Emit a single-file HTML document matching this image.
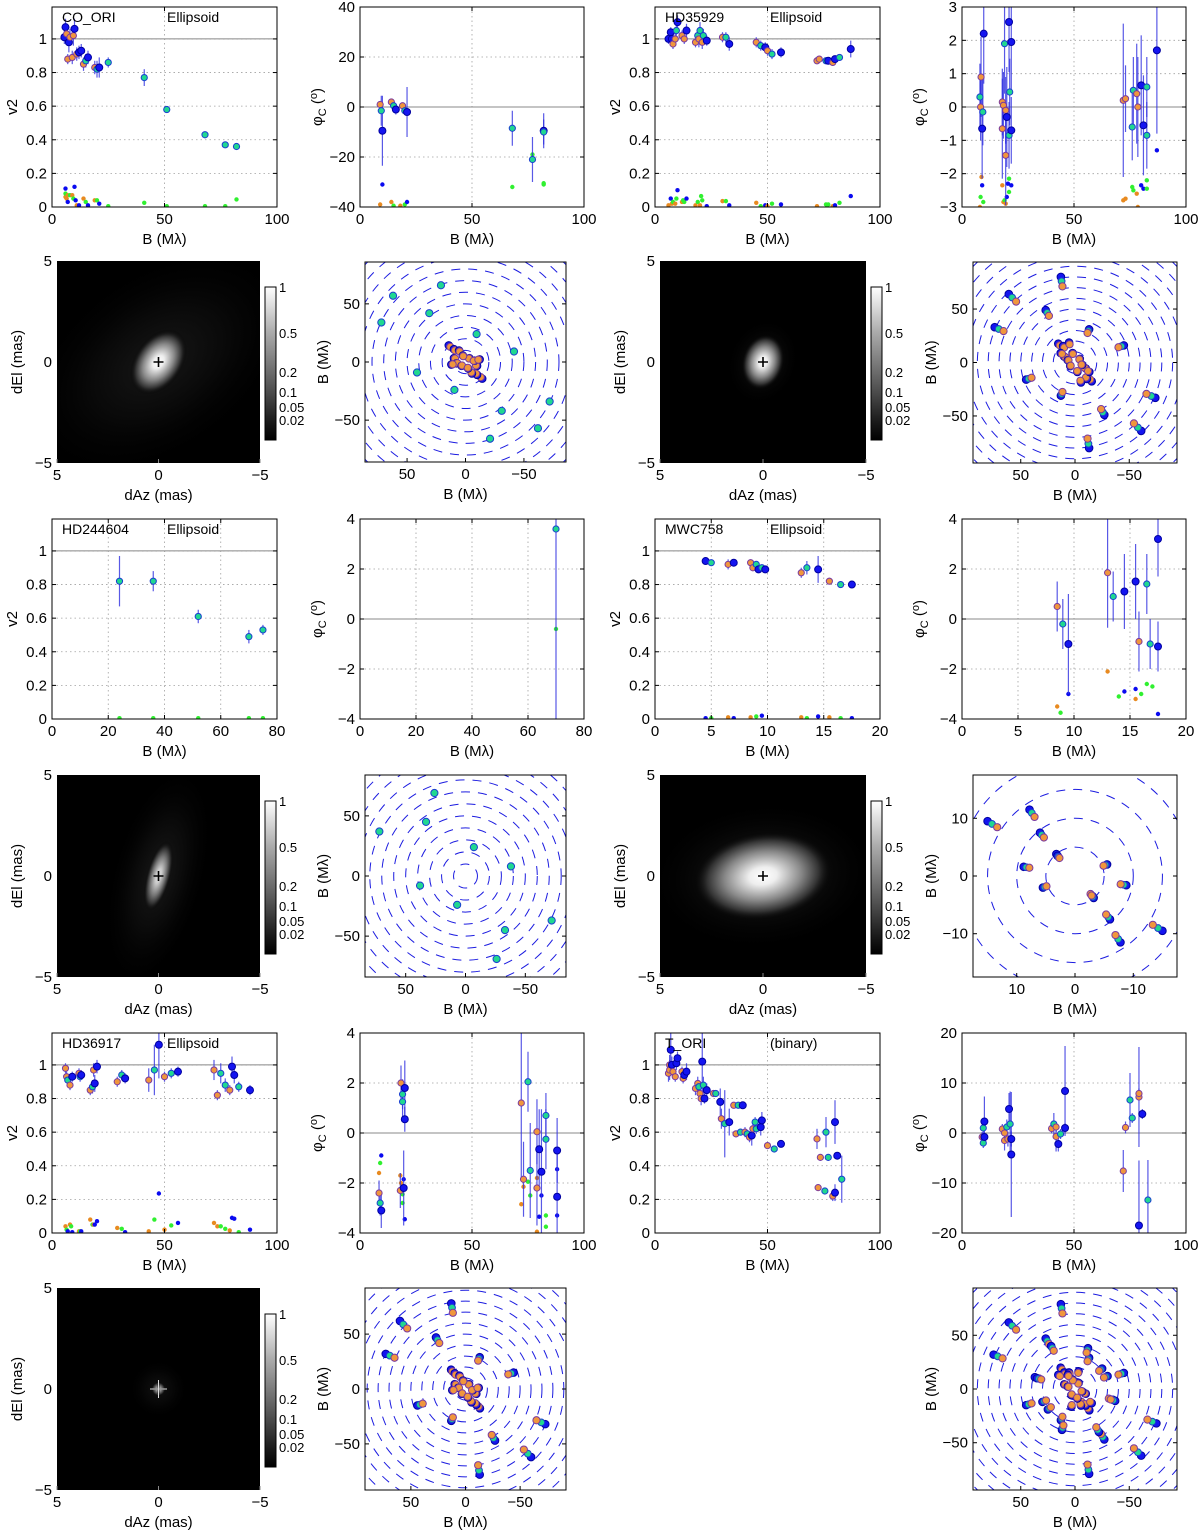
<!DOCTYPE html>
<html><head><meta charset="utf-8"><title>Interferometry fits</title>
<style>
html,body{margin:0;padding:0;background:#fff;}
svg{display:block;font-family:"Liberation Sans",sans-serif;}
</style></head>
<body>
<svg id="fig" width="1200" height="1535" viewBox="0 0 1200 1535" xmlns="http://www.w3.org/2000/svg">
<defs>
<linearGradient id="cbar" x1="0" y1="1" x2="0" y2="0">
<stop offset="0" stop-color="#000"/><stop offset="0.12" stop-color="#1a1a1a"/><stop offset="0.35" stop-color="#555"/><stop offset="0.7" stop-color="#aaa"/><stop offset="1" stop-color="#fff"/>
</linearGradient>
<radialGradient id="halo"><stop offset="0" stop-color="#2a2a2a"/><stop offset="0.5" stop-color="#101010"/><stop offset="1" stop-color="#000" stop-opacity="0"/></radialGradient>
<radialGradient id="core"><stop offset="0" stop-color="#fff"/><stop offset="0.2" stop-color="#eee"/><stop offset="0.55" stop-color="#888"/><stop offset="0.8" stop-color="#333"/><stop offset="1" stop-color="#000" stop-opacity="0"/></radialGradient>
</defs>
</svg>
<script>
// ---------- DATA ----------
// point: [x, y, err, series]  series: b=blue, g=green, o=orange
const coOriV2Pts=[[5.5,1.01,.04,'b'],[6,1.07,.05,'b'],[6.5,1.03,.04,'o'],[7,0.88,.03,'o'],[7.5,0.98,.06,'b'],[8,1.01,.05,'o'],[9,0.89,.04,'o'],[9.5,1.02,.06,'o'],[10,1.06,.06,'b'],[11,0.91,.04,'o'],[12,0.92,.04,'b'],[13,0.93,.04,'b'],[14,0.85,.04,'o'],[15,0.87,.04,'g'],[16,0.89,.04,'b'],[19,0.83,.04,'o'],[20,0.82,.05,'g'],[21,0.83,.06,'b'],[25,0.86,.03,'g'],[41,0.77,.05,'g'],[51,0.58,.02,'g'],[68,0.43,.02,'g'],[77,0.37,.01,'g'],[82,0.36,.02,'g']];
const coOriV2Low=[[6,0.11,'b'],[6,0.06,'o'],[6,0.08,'l'],[6.5,0.05,'o'],[7,0.07,'o'],[7,0.03,'b'],[8,0.07,'l'],[9,0.07,'o'],[9.5,0.05,'l'],[10,0.12,'b'],[10.5,0.04,'b'],[11,0.01,'o'],[12,0.01,'b'],[14,0.05,'o'],[15,0.03,'l'],[16,0.01,'b'],[19,0.04,'o'],[20,0.04,'l'],[21,0.02,'b'],[25,0.005,'l'],[41,0.025,'l'],[51,0.005,'l'],[68,0.005,'l'],[77,0.005,'l'],[82,0.045,'l']];
const coOriCpPts=[[9,1,1,'o'],[9.5,-1.5,6,'g'],[10,-9.5,14,'b'],[14,2,1,'o'],[15,0.5,1,'g'],[16,-1,2,'b'],[19,0.5,1,'o'],[20,-1.5,1,'g'],[21,-2,10,'b'],[68,-8.5,7,'g'],[77,-21,9,'g'],[82,-9.5,7,'b'],[82,-10,5,'g']];
const coOriCpLow=[[9,-39,'o'],[10,-31,'b'],[14,-38,'o'],[15,-39.5,'l'],[18,-39.5,'o'],[20,-39,'l'],[21,-38,'b'],[68,-32,'l'],[77,-19,'l'],[82,-31,'l'],[82,-30.5,'l']];
const hd35929V2Pts=[[6,1.0,.03,'b'],[7,1.04,.03,'b'],[7.5,1.0,.04,'b'],[8,0.97,.03,'o'],[9,1.0,.03,'o'],[9.5,1.05,.03,'g'],[10,1.1,.04,'b'],[12,1.02,.03,'o'],[13,1.0,.03,'o'],[14,1.05,.04,'b'],[18,0.98,.03,'o'],[19,1.02,.04,'g'],[19.5,1.0,.05,'o'],[20,1.05,.05,'g'],[21,0.98,.04,'o'],[21.5,1.02,.04,'g'],[23,0.99,.03,'b'],[30,1.01,.03,'o'],[31.5,1.01,.03,'g'],[33,0.97,.04,'b'],[45,0.98,.03,'o'],[47,0.96,.03,'g'],[49,0.95,.03,'b'],[50,0.93,.03,'o'],[52,0.91,.03,'g'],[56,0.92,.03,'b'],[72,0.87,.02,'o'],[73,0.88,.02,'o'],[76,0.87,.02,'g'],[77,0.87,.02,'b'],[79,0.86,.02,'o'],[80,0.88,.02,'b'],[82,0.89,.02,'g'],[87,0.94,.05,'b']];
const hd35929V2Low=[[6,0.01,'o'],[7,0.05,'b'],[7.5,0.02,'o'],[8,0.03,'l'],[9,0.02,'o'],[9.5,0.05,'l'],[10,0.1,'b'],[12,0.03,'o'],[12.5,0.04,'l'],[13,0.03,'l'],[14,0.05,'b'],[18,0.01,'o'],[19,0.03,'l'],[20,0.01,'o'],[20.5,0.065,'l'],[21,0.04,'l'],[23,0.005,'b'],[30,0.035,'o'],[31.5,0.035,'l'],[33,0.01,'b'],[45,0.025,'o'],[47,0.005,'l'],[49,0.01,'b'],[50,0.005,'o'],[52,0.02,'l'],[56,0.015,'b'],[72,0.005,'o'],[76,0.015,'l'],[77,0.015,'l'],[79,0.005,'o'],[80,0.01,'b'],[82,0.025,'l'],[87,0.065,'b']];
const hd35929CpPts=[[8,0.3,1,'g'],[8.3,0,1,'o'],[8.5,0.9,1.2,'o'],[9,-0.65,1.5,'b'],[9.3,-0.15,1,'g'],[9.7,2.2,1.5,'b'],[18,0.15,1,'o'],[18,-0.65,1.5,'o'],[18.5,0.05,1,'o'],[19,1.9,1.5,'g'],[19.5,-1.45,1.5,'o'],[19.5,-0.1,1,'o'],[20,-0.3,1.5,'b'],[21,2.55,1.5,'b'],[21,-0.85,1,'g'],[21.3,0.45,1,'g'],[22,1.95,1.5,'b'],[22,-0.7,1,'b'],[72,0.2,2.3,'o'],[73,0.25,1,'o'],[76,-0.6,1,'g'],[76.5,0.5,1,'g'],[78,0.4,1.5,'o'],[78.5,0,1.5,'o'],[80,0.65,1.5,'b'],[81,-0.55,1.5,'b'],[82.5,0.6,0.9,'g'],[82.5,-0.85,1,'g'],[87,1.7,2.5,'b']];
const hd35929CpLow=[[8,-3,'o'],[8.3,-2.7,'l'],[8.7,-2.1,'o'],[9,-2.35,'b'],[9.5,-2.85,'l'],[18,-2.35,'o'],[18.5,-2.85,'o'],[19,-2.8,'l'],[19.5,-2.9,'o'],[20,-2.7,'b'],[20.5,-2.3,'b'],[21,-2.15,'l'],[21,-2.55,'l'],[22,-2.35,'b'],[72,-2.8,'o'],[73,-2.75,'o'],[76,-2.4,'l'],[76.5,-2.5,'l'],[78,-2.6,'o'],[78.5,-3,'o'],[80,-2.35,'b'],[81,-2.45,'b'],[82.5,-2.2,'l'],[82.5,-2.45,'l'],[87,-1.3,'b']];
const hd244604V2Pts=[[24,0.82,.15,'g'],[36,0.82,.06,'g'],[52,0.61,.04,'g'],[70,0.49,.04,'g'],[75,0.53,.03,'g']];
const hd244604V2Low=[[24,0.005,'l'],[36,0.005,'l'],[52,0.005,'l'],[70,0.005,'l'],[75,0.005,'l']];
const hd244604CpPts=[[70,3.6,8,'g']];
const hd244604CpLow=[[70,-0.4,'l']];
const mwc758V2Pts=[[4.5,0.94,.02,'b'],[5,0.93,.02,'g'],[6.5,0.92,.03,'o'],[7,0.93,.02,'b'],[8.5,0.93,.02,'o'],[8.7,0.90,.02,'o'],[9,0.92,.02,'g'],[9.2,0.89,.02,'b'],[9.5,0.90,.02,'g'],[9.8,0.89,.02,'b'],[13,0.87,.03,'o'],[13.5,0.90,.04,'g'],[14.5,0.89,.08,'b'],[15.5,0.82,.02,'o'],[16.5,0.80,.02,'g'],[17.5,0.80,.02,'b']];
const mwc758V2Low=[[4.5,0.005,'b'],[5,0.005,'l'],[6.5,0.01,'o'],[7,0.005,'b'],[8.5,0.01,'o'],[9,0.015,'l'],[9.5,0.02,'b'],[13,0.01,'o'],[13.5,0.005,'l'],[14.5,0.015,'b'],[15.5,0.01,'o'],[16.5,0.005,'l'],[17.5,0.005,'b']];
const mwc758CpPts=[[8.5,0.5,1,'o'],[9,-0.2,1,'g'],[9.5,-1.0,2,'b'],[13,1.85,2.2,'o'],[13.5,0.9,1,'g'],[14.5,1.1,1.5,'b'],[15.5,1.5,1.5,'b'],[15.8,-0.9,1.2,'o'],[16.5,1.4,1.2,'g'],[16.8,-1.0,1,'g'],[17.5,-1.1,1,'b'],[17.5,3.2,1.5,'b']];
const mwc758CpLow=[[8.5,-3.5,'o'],[8.8,-3.75,'l'],[9.5,-3,'b'],[13,-2.1,'o'],[14,-3.1,'l'],[14.5,-2.9,'b'],[15.5,-3.2,'o'],[15.5,-2.8,'b'],[16,-3,'l'],[16.5,-2.6,'l'],[17,-2.7,'l'],[17.5,-3.8,'b']];
const hd36917V2Pts=[[6,0.98,.03,'o'],[6.5,0.93,.03,'o'],[7,0.91,.03,'g'],[8,0.88,.03,'o'],[9,0.93,.03,'b'],[12,0.95,.03,'o'],[12.5,0.93,.03,'g'],[13,0.94,.03,'b'],[17,0.85,.03,'o'],[18,0.87,.04,'g'],[18.5,0.97,.04,'o'],[19,0.89,.05,'b'],[20,0.99,.04,'b'],[29,0.9,.03,'o'],[31,0.94,.03,'g'],[32.5,0.92,.03,'b'],[43,0.91,.07,'o'],[45.5,0.97,.15,'g'],[47.5,1.12,.2,'b'],[50,0.93,.03,'o'],[53,0.95,.03,'g'],[56,0.96,.03,'b'],[72,0.97,.06,'o'],[73.5,0.82,.03,'o'],[75,0.95,.06,'g'],[77,0.88,.04,'g'],[79,0.85,.03,'o'],[80,0.99,.06,'b'],[81,0.94,.05,'b'],[83,0.87,.03,'g'],[88,0.85,.03,'b']];
const hd36917V2Low=[[6,0.04,'o'],[6.5,0.02,'l'],[7,0.01,'b'],[8,0.05,'o'],[8.5,0.04,'l'],[9,0.005,'b'],[12,0.01,'o'],[12.5,0.01,'l'],[13,0.01,'b'],[17,0.08,'o'],[18,0.05,'l'],[18.5,0.05,'o'],[19,0.05,'b'],[20,0.07,'b'],[29,0.03,'o'],[31,0.025,'l'],[32.5,0.005,'b'],[43,0.01,'o'],[45.5,0.08,'l'],[47.5,0.235,'b'],[50,0.02,'o'],[53,0.045,'l'],[56,0.06,'b'],[72,0.06,'o'],[73.5,0.04,'o'],[75,0.04,'l'],[77,0.025,'l'],[79,0.015,'o'],[80,0.09,'b'],[81,0.085,'b'],[83,0.005,'l'],[88,0.02,'b']];
const hd36917CpPts=[[8.5,-2.4,.5,'o'],[9,-2.8,.5,'g'],[9.5,-3.1,.7,'b'],[18,-2.3,.7,'o'],[18.3,2.0,.7,'o'],[19,1.55,.6,'g'],[19,1.25,.6,'g'],[19.5,-2.2,1.5,'b'],[20,1.8,1.1,'b'],[20,0.55,.5,'b'],[72,1.2,3,'o'],[73,-1.85,1.5,'o'],[75,2.05,1.2,'g'],[76,-1.5,1.9,'g'],[79,0.05,1.3,'o'],[79,-2.2,1.5,'o'],[80,-0.65,1.6,'b'],[81,-1.55,2.5,'b'],[83,0.7,.9,'g'],[83,-0.25,1.2,'g'],[88,-0.7,1.3,'b'],[88,-2.55,2,'b']];
const hd36917CpLow=[[8.5,-1.6,'o'],[9,-1.2,'l'],[9.5,-0.9,'b'],[18,-1.7,'o'],[18.3,-2.0,'o'],[19,-2.45,'l'],[19,-2.8,'l'],[19.5,-1.85,'b'],[20,-3.45,'b'],[72,-2.85,'o'],[73,-2.15,'o'],[75,-1.95,'l'],[76,-2.5,'l'],[79,-1.8,'o'],[79,-3.95,'o'],[80,-3.35,'b'],[81,-2.5,'b'],[83,-3.3,'l'],[83,-3.75,'l'],[88,-1.45,'b'],[88,-3.3,'b']];
const tOriV2Pts=[[6,0.95,.05,'o'],[6.5,1.0,.06,'o'],[6.5,0.97,.06,'o'],[7,1.09,.12,'b'],[7.5,1.0,.05,'b'],[8,0.96,.04,'o'],[9,0.93,.03,'o'],[9.5,1.01,.04,'b'],[10,1.04,.04,'b'],[12,0.96,.03,'o'],[12.5,0.92,.03,'o'],[13,0.94,.03,'b'],[14,0.96,.05,'b'],[18,0.86,.04,'o'],[19,0.89,.04,'o'],[19.5,0.87,.04,'g'],[20,0.83,.04,'o'],[20.5,0.8,.04,'o'],[21,1.02,.2,'b'],[21.5,0.88,.05,'g'],[22,0.8,.03,'b'],[23,0.85,.04,'b'],[26,0.83,.02,'o'],[27,0.83,.02,'g'],[29,0.78,.08,'b'],[29.5,0.68,.06,'o'],[31,0.65,.2,'g'],[33,0.66,.08,'b'],[35,0.76,.01,'o'],[36,0.59,.02,'o'],[37,0.76,.01,'g'],[38,0.6,.02,'g'],[39,0.76,.01,'b'],[40,0.6,.03,'o'],[41,0.59,.02,'g'],[42,0.57,.03,'o'],[43,0.58,.06,'b'],[43.5,0.62,.04,'o'],[44.5,0.66,.03,'g'],[45,0.62,.03,'g'],[47,0.63,.05,'b'],[47.5,0.67,.05,'b'],[50,0.52,.01,'o'],[53,0.5,.01,'g'],[56,0.53,.02,'b'],[72,0.56,.06,'o'],[72.5,0.27,.02,'o'],[73.5,0.45,.02,'o'],[75.5,0.25,.02,'g'],[76,0.6,.09,'g'],[77,0.45,.02,'g'],[79,0.22,.03,'o'],[80,0.24,.05,'b'],[80,0.66,.13,'b'],[81,0.46,.02,'b'],[83,0.32,.14,'g']];
const tOriV2Low=[];
const tOriCpPts=[[9,-0.8,1,'o'],[9.5,1,1.5,'g'],[9.5,-2,1,'g'],[10,-0.8,1,'b'],[10,2.3,5,'b'],[18,0.8,1,'o'],[19,-1.5,2,'o'],[19,0,1.5,'o'],[20,1.2,1.5,'g'],[20.5,-1.2,1.5,'o'],[21,4.8,3.2,'b'],[21.5,1.8,6.5,'g'],[22,-1.2,1.5,'b'],[22,-4.3,12.5,'b'],[40,0.9,1,'o'],[41,1.8,2.2,'g'],[42,-0.7,3,'o'],[42,1.2,1,'o'],[43,-2.2,1.5,'b'],[44,-0.2,1,'g'],[46,8.4,9,'b'],[46,1,1,'b'],[72,-7.6,4.2,'o'],[73,1.1,1.2,'o'],[75,6.6,5.4,'g'],[76,3,1,'g'],[79,7.2,10,'o'],[79,7.9,1,'o'],[79,-18.5,13,'b'],[80.5,3.8,1,'b'],[83,-13.4,8,'g']];
const tOriCpLow=[];
// uv coverage (half-sets; mirrored points are drawn too)
const coOriUvOuter=[[72,34],[62,57],[21,66],[31,42],[-9.5,24],[-41.5,9]];
const coOriUvInner=[[13,13],[9,10],[5,9],[9,3],[7,-1],[-3,3],[2,5],[11,-2]];
const hd35929UvOuter=[[13,80],[61,64],[27,49],[74,33],[-13,31],[-45,16]];
const hd35929UvInner=[[14,16],[10,14],[5,17],[9,5],[6,2],[-4,3],[2,8],[12,8]];
const hd244604UvOuter=[[72,37],[26,69],[33,45],[-7,24],[-38,8]];
const mwc758UvOuter=[[15,9.5],[7.8,11.5],[6,7.5],[3.2,3.8],[8.8,1.6],[5.5,-2],[-3,-3.5]];
const hd36917UvOuter=[[13,78],[60,62],[27,47],[73,32],[-13,29],[-44,15]];
const hd36917UvInner=[[12,16],[9,13],[5,11],[9,4],[6,1],[-3,4],[2,7],[11,-1]];
const tOriUvOuter=[[13,79],[61,62],[27,47],[75,32],[-13,29],[-45,15],[37,11],[30,-12],[-25,19],[22,40],[-12,38],[-35,-10]];
const tOriUvInner=[[12,18],[9,14],[5,14],[9,4],[6,2],[-3,5],[2,8],[14,12],[-6,-12],[3,-15]];

// ---------- HELPERS ----------
const NS='http://www.w3.org/2000/svg';
const svg=document.getElementById('fig');
let clipN=0;
function mk(tag,attrs,parent){const e=document.createElementNS(NS,tag);for(const k in attrs)e.setAttribute(k,attrs[k]);(parent||svg).appendChild(e);return e;}
function txt(x,y,s,size,anchor,parent,extra){const t=mk('text',Object.assign({x:x,y:y,'font-size':size,'text-anchor':anchor||'middle',fill:'#000'},extra||{}),parent);t.textContent=s;return t;}
const FILL={b:'#1414f0',g:'#20d890',o:'#f0963c'};
const EDGE={b:'#0000a0',g:'#1a3fd0',o:'#7a3aa0'};
const LOW={b:'#0a0af0',l:'#30f030',o:'#e88a20'};

function addClip(x,y,w,h){const id='c'+(clipN++);const cp=mk('clipPath',{id:id});mk('rect',{x:x,y:y,width:w,height:h},cp);return id;}

function dataPanel(name,L,T,W,H,xr,xt,yr,yt,kind,pts,low,title,model){
  const g=mk('g',{});
  
  
  const sx=v=>L+(v-xr[0])/(xr[1]-xr[0])*W;
  const sy=v=>T+H-(v-yr[0])/(yr[1]-yr[0])*H;
  mk('rect',{x:L,y:T,width:W,height:H,fill:'#fff'},g);
  const grid=mk('g',{stroke:'#a0a0a0','stroke-width':0.8,'stroke-dasharray':'1.5,3'},g);
  
  
  xt.forEach(v=>{if(v>xr[0]&&v<xr[1])mk('line',{x1:sx(v),x2:sx(v),y1:T,y2:T+H},grid);});
  yt.forEach(v=>{if(v>yr[0]&&v<yr[1])mk('line',{x1:L,x2:L+W,y1:sy(v),y2:sy(v)},grid);});
  const ref=kind==='v2'?1:0;
  const rl=mk('line',{x1:L,x2:L+W,y1:sy(ref),y2:sy(ref),stroke:'#888','stroke-width':1},g);
  
  
  const cid=addClip(L,T,W,H);
  const pg=mk('g',{'clip-path':'url(#'+cid+')'},g);
  low.forEach(p=>{
    const c=mk('circle',{cx:sx(p[0]),cy:sy(p[1]),r:2.2,fill:LOW[p[2]]},pg);
    
    
  });
  pts.forEach(p=>{
    const e=mk('line',{x1:sx(p[0]),x2:sx(p[0]),y1:sy(p[1]-p[2]),y2:sy(p[1]+p[2]),stroke:'#3030e0','stroke-width':1.2,'stroke-opacity':0.8},pg);
    
    
  });
  pts.forEach(p=>{
    const c=mk('circle',{cx:sx(p[0]),cy:sy(p[1]),r:p[3]==='b'?3.5:3.1,fill:FILL[p[3]],stroke:EDGE[p[3]],'stroke-width':1},pg);
    
    
  });
  const box=mk('rect',{x:L,y:T,width:W,height:H,fill:'none',stroke:'#000','stroke-width':1},g);
  
  
  xt.forEach(v=>{mk('line',{x1:sx(v),x2:sx(v),y1:T+H,y2:T+H-4,stroke:'#000'},g);mk('line',{x1:sx(v),x2:sx(v),y1:T,y2:T+4,stroke:'#000'},g);
    const t=txt(sx(v),T+H+17,String(v),15,'middle',g);
    
    });
  yt.forEach(v=>{mk('line',{x1:L,x2:L+4,y1:sy(v),y2:sy(v),stroke:'#000'},g);mk('line',{x1:L+W,x2:L+W-4,y1:sy(v),y2:sy(v),stroke:'#000'},g);
    const t=txt(L-5,sy(v)+5,String(v).replace('-','\u2212'),15,'end',g);
    
    });
  const xl=txt(L+W/2,T+H+37,'B (M\u03bb)',15,'middle',g);
  
  
  let yl;
  if(kind==='v2'){yl=txt(0,0,'v2',15,'middle',g,{transform:'translate('+(L-35)+','+(T+H/2)+') rotate(-90)'});}
  else{yl=mk('text',{'font-size':15,'text-anchor':'middle',transform:'translate('+(L-38)+','+(T+H/2)+') rotate(-90)'},g);
    yl.innerHTML='\u03c6<tspan font-size="11" dy="4">C</tspan><tspan dy="-4"> (</tspan><tspan font-size="11" dy="-5">o</tspan><tspan dy="5">)</tspan>';}
  
  
  if(title){const t=txt(L+10,T+15,title,14,'start',g);
    
    
    const m=txt(L+115,T+15,model,14,'start',g);
    
    }
}

function imagePanel(name,L,T,W,H,ellipses){
  const g=mk('g',{});
  
  
  mk('rect',{x:L,y:T,width:W,height:H,fill:'#000'},g);
  const cid=addClip(L,T,W,H);
  const ig=mk('g',{'clip-path':'url(#'+cid+')'},g);
  const cx=L+W/2,cy=T+H/2;
  ellipses.forEach(e=>{
    const el=mk('ellipse',{cx:cx,cy:cy,rx:e[0],ry:e[1],fill:'url(#'+e[3]+')',opacity:e[4],transform:'rotate('+e[2]+' '+cx+' '+cy+')'},ig);
    
    
  });
  const cr=mk('path',{d:'M'+(cx-5)+' '+cy+'H'+(cx+5)+'M'+cx+' '+(cy-5)+'V'+(cy+5),stroke:'#000','stroke-width':1.6},g);
  
  
  const sx=v=>L+W/2-v/5*W/2, sy=v=>T+H/2-v/5*H/2;
  [5,0,-5].forEach(v=>{
    const a=txt(sx(v),T+H+17,String(v).replace('-','\u2212'),15,'middle',g);
    
    
    const b=txt(L-5,sy(v)+5,String(v).replace('-','\u2212'),15,'end',g);
    
    
    mk('line',{x1:sx(v),x2:sx(v),y1:T+H,y2:T+H-4,stroke:'#888'},g);
  });
  const xl=txt(L+W/2,T+H+37,'dAz (mas)',15,'middle',g);
  
  
  const yl=txt(0,0,'dEl (mas)',15,'middle',g,{transform:'translate('+(L-35)+','+(T+H/2)+') rotate(-90)'});
  
  
  // colorbar
  const bx=L+W+5,by=T+26,bw=11,bh=153;
  const cb=mk('rect',{x:bx,y:by,width:bw,height:bh,fill:'url(#cbar)',stroke:'#000','stroke-width':1},g);
  
  
  [['1',0],['0.5',46],['0.2',85],['0.1',105],['0.05',120],['0.02',133]].forEach(p=>{
    const t=txt(bx+bw+3,by+p[1]+5,p[0],13,'start',g);
    
    
  });
}

function uvPanel(name,L,T,W,H,R,tick,ringStep,outer,inner,single){
  const g=mk('g',{});
  
  
  const kx=W/2/R,ky=H/2/R;
  const cx=L+W/2,cy=T+H/2;
  const sx=u=>cx-u*kx, sy=v=>cy-v*ky;
  mk('rect',{x:L,y:T,width:W,height:H,fill:'#fff'},g);
  const cid=addClip(L,T,W,H);
  const pg=mk('g',{'clip-path':'url(#'+cid+')'},g);
  for(let r=ringStep;r<R*1.45;r+=ringStep){
    const c=mk('ellipse',{cx:cx,cy:cy,rx:r*kx,ry:r*ky,fill:'none',stroke:'#1c1ce0','stroke-width':1,'stroke-dasharray':'9,8'},pg);
    
    
  }
  function dot(u,v,s,rad){
    const c=mk('circle',{cx:sx(u),cy:sy(v),r:rad,fill:FILL[s],stroke:EDGE[s],'stroke-width':1},pg);
    
    
  }
  [1,-1].forEach(m=>{
    outer.forEach(p=>{
      if(single){dot(m*p[0],m*p[1],'g',3.6);}
      else{dot(m*p[0],m*p[1],'b',3.8);dot(m*p[0]*0.95,m*p[1]*0.95,'g',3.4);dot(m*p[0]*0.89,m*p[1]*0.89,'o',3.6);}
    });
    inner.forEach(p=>{dot(m*p[0]*1.1,m*p[1]*1.1,'b',3.8);dot(m*p[0],m*p[1],'o',3.6);});
  });
  const box=mk('rect',{x:L,y:T,width:W,height:H,fill:'none',stroke:'#000','stroke-width':1},g);
  
  
  [tick,0,-tick].forEach(v=>{
    const a=txt(sx(v),T+H+17,String(v).replace('-','\u2212'),15,'middle',g);
    
    
    const b=txt(L-5,sy(v)+5,String(v).replace('-','\u2212'),15,'end',g);
    
    
    mk('line',{x1:sx(v),x2:sx(v),y1:T+H,y2:T+H-4,stroke:'#000'},g);
    mk('line',{x1:L,x2:L+4,y1:sy(v),y2:sy(v),stroke:'#000'},g);
    mk('line',{x1:L+W,x2:L+W-4,y1:sy(v),y2:sy(v),stroke:'#000'},g);
  });
  const xl=txt(L+W/2,T+H+37,'B (M\u03bb)',15,'middle',g);
  
  
  const yl=txt(0,0,'B (M\u03bb)',15,'middle',g,{transform:'translate('+(L-37)+','+(T+H/2)+') rotate(-90)'});
  
  
}

// ---------- LAYOUT ----------
const t100=[0,50,100], t80=[0,20,40,60,80], t20=[0,5,10,15,20];
const v2t=[0,0.2,0.4,0.6,0.8,1], v2r=[0,1.19];
// Row 1
dataPanel('co-ori-v2-plot',52,7,225,200,[0,100],t100,v2r,v2t,'v2',coOriV2Pts,coOriV2Low,'CO_ORI','Ellipsoid');
dataPanel('co-ori-closure-phase-plot',360,7,224,200,[0,100],t100,[-40,40],[-40,-20,0,20,40],'phi',coOriCpPts,coOriCpLow);
dataPanel('hd35929-v2-plot',655,7,225,200,[0,100],t100,v2r,v2t,'v2',hd35929V2Pts,hd35929V2Low,'HD35929','Ellipsoid');
dataPanel('hd35929-closure-phase-plot',962,7,224,200,[0,100],t100,[-3,3],[-3,-2,-1,0,1,2,3],'phi',hd35929CpPts,hd35929CpLow);
// Row 2
imagePanel('co-ori-model-image',57,261,203,202,[[150,95,-35,'halo',0.55],[36,24,-55,'core',1]]);
uvPanel('co-ori-uv-coverage',365,262,201,200,86,50,10,coOriUvOuter,coOriUvInner,true);
imagePanel('hd35929-model-image',660,261,206,202,[[45,36,-70,'halo',0.5],[28,21,-75,'core',1]]);
uvPanel('hd35929-uv-coverage',973,262,204,201,94,50,10,hd35929UvOuter,hd35929UvInner,false);
// Row 3
dataPanel('hd244604-v2-plot',52,519,225,200,[0,80],t80,v2r,v2t,'v2',hd244604V2Pts,hd244604V2Low,'HD244604','Ellipsoid');
dataPanel('hd244604-closure-phase-plot',360,519,224,200,[0,80],t80,[-4,4],[-4,-2,0,2,4],'phi',hd244604CpPts,hd244604CpLow);
dataPanel('mwc758-v2-plot',655,519,225,200,[0,20],t20,v2r,v2t,'v2',mwc758V2Pts,mwc758V2Low,'MWC758','Ellipsoid');
dataPanel('mwc758-closure-phase-plot',962,519,224,200,[0,20],t20,[-4,4],[-4,-2,0,2,4],'phi',mwc758CpPts,mwc758CpLow);
// Row 4
imagePanel('hd244604-model-image',57,775,203,202,[[115,48,-75,'halo',0.6],[36,12,-75,'core',0.85]]);
uvPanel('hd244604-uv-coverage',365,775,201,202,84,50,10,hd244604UvOuter,[],true);
imagePanel('mwc758-model-image',660,775,206,202,[[115,75,-5,'halo',0.7],[70,44,-8,'core',1]]);
uvPanel('mwc758-uv-coverage',973,775,204,202,17.5,10,5,mwc758UvOuter,[],false);
// Row 5
dataPanel('hd36917-v2-plot',52,1033,225,200,[0,100],t100,v2r,v2t,'v2',hd36917V2Pts,hd36917V2Low,'HD36917','Ellipsoid');
dataPanel('hd36917-closure-phase-plot',360,1033,224,200,[0,100],t100,[-4,4],[-4,-2,0,2,4],'phi',hd36917CpPts,hd36917CpLow);
dataPanel('t-ori-v2-plot',655,1033,225,200,[0,100],t100,v2r,v2t,'v2',tOriV2Pts,tOriV2Low,'T_ORI','(binary)');
dataPanel('t-ori-closure-phase-plot',962,1033,224,200,[0,100],t100,[-20,20],[-20,-10,0,10,20],'phi',tOriCpPts,tOriCpLow);
// Row 6
imagePanel('hd36917-model-image',57,1288,203,202,[[30,30,0,'halo',0.4],[7,7,0,'core',0.7]]);
uvPanel('hd36917-uv-coverage',365,1288,201,202,92,50,10,hd36917UvOuter,hd36917UvInner,false);
uvPanel('t-ori-uv-coverage',973,1288,204,202,94,50,10,tOriUvOuter,tOriUvInner,false);
// thin white cross on HD36917 (point source)
const wc=mk('path',{d:'M150 1389H167M158.5 1380V1398',stroke:'#ddd','stroke-width':1});


</script>
</body></html>
